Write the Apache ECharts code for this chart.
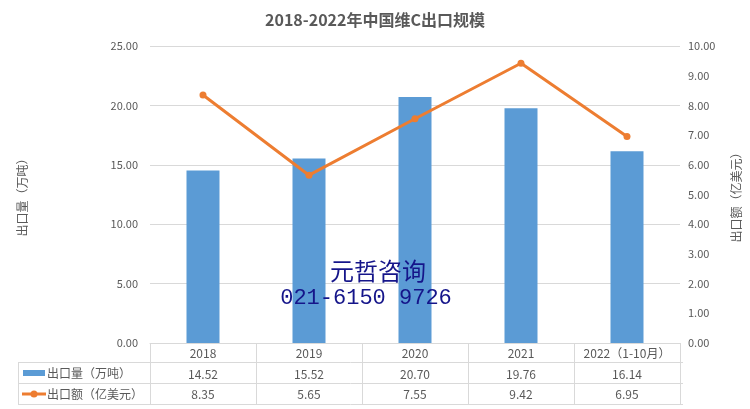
<!DOCTYPE html>
<html><head><meta charset="utf-8">
<script src="https://cdn.jsdelivr.net/npm/echarts@6/dist/echarts.min.js"></script>
<style>html,body{margin:0;padding:0;background:#fff}#c{width:750px;height:409px}</style>
</head><body><div id="c"></div>
<script>
var categories = ['2018','2019','2020','2021','2022（1-10月）'];
var volume = [14.52, 15.52, 20.70, 19.76, 16.14];
var value = [8.35, 5.65, 7.55, 9.42, 6.95];
var leftTicks = {min:0, max:25, interval:5};
var rightTicks = {min:0, max:10, interval:1};
var volName = '出口量（万吨）';
var valName = '出口额（亿美元）';

var FONT = '"Noto Sans CJK SC", "Noto Sans", sans-serif';
var GRAY = '#595959';
var LINE = '#D9D9D9';
var chart = echarts.init(document.getElementById('c'));
var fmt2 = function(v){ return Number(v).toFixed(2); };

var gridL = 150, gridR = 67, gridT = 46, gridB = 66;
var tableLeft = 18, tableRight = 750 - gridR;
var axisY = 409 - gridB;

var lbl = {margin: 4, verticalAlign: 'top', color: GRAY, fontSize: 12, fontFamily: FONT, interval: 0};

chart.setOption({
  animation: false,
  title: {text: '2018-2022年中国维C出口规模', left: 'center', top: 7,
    textStyle: {fontSize: 16, fontWeight: 'bold', color: GRAY, fontFamily: FONT}},
  grid: {left: gridL, right: gridR, top: gridT, bottom: gridB, containLabel: false},
  xAxis: [
    {type: 'category', data: categories, position: 'bottom',
      axisLine: {lineStyle: {color: LINE}},
      axisTick: {show: true, length: 62, interval: 0, lineStyle: {color: LINE}},
      axisLabel: lbl},
    {type: 'category', data: volume.map(fmt2), position: 'bottom', offset: 21,
      axisLine: {show: false}, axisTick: {show: false}, axisLabel: lbl},
    {type: 'category', data: value.map(fmt2), position: 'bottom', offset: 41,
      axisLine: {show: false}, axisTick: {show: false}, axisLabel: lbl}
  ],
  yAxis: [
    {type: 'value', min: leftTicks.min, max: leftTicks.max, interval: leftTicks.interval,
      name: volName, nameLocation: 'middle', nameGap: 122,
      nameTextStyle: {color: GRAY, fontSize: 12, fontFamily: FONT},
      axisLine: {show: false}, axisTick: {show: false},
      axisLabel: {formatter: fmt2, color: GRAY, fontSize: 11, margin: 12, fontFamily: FONT},
      splitLine: {lineStyle: {color: LINE}}},
    {type: 'value', min: rightTicks.min, max: rightTicks.max, interval: rightTicks.interval,
      name: valName, nameLocation: 'middle', nameGap: 50,
      nameTextStyle: {color: GRAY, fontSize: 12, fontFamily: FONT},
      axisLine: {show: false}, axisTick: {show: false},
      axisLabel: {formatter: fmt2, color: GRAY, fontSize: 11, margin: 8, fontFamily: FONT},
      splitLine: {show: false}}
  ],
  series: [
    {name: volName, type: 'bar', data: volume, xAxisIndex: 0, yAxisIndex: 0,
      barWidth: 33, itemStyle: {color: '#5B9BD5'}},
    {name: valName, type: 'line', data: value, xAxisIndex: 0, yAxisIndex: 1,
      symbol: 'circle', symbolSize: 7,
      lineStyle: {color: '#ED7D31', width: 3},
      itemStyle: {color: '#ED7D31'}}
  ],
  graphic: [
    {type: 'line', shape: {x1: tableLeft, y1: axisY + 19.5, x2: tableRight, y2: axisY + 19.5}, style: {stroke: LINE, lineWidth: 1}},
    {type: 'line', shape: {x1: tableLeft, y1: axisY + 40.5, x2: tableRight, y2: axisY + 40.5}, style: {stroke: LINE, lineWidth: 1}},
    {type: 'line', shape: {x1: tableLeft, y1: axisY + 61.5, x2: tableRight, y2: axisY + 61.5}, style: {stroke: LINE, lineWidth: 1}},
    {type: 'line', shape: {x1: tableLeft + 0.5, y1: axisY + 19.5, x2: tableLeft + 0.5, y2: axisY + 61.5}, style: {stroke: LINE, lineWidth: 1}},
    {type: 'rect', shape: {x: 23, y: axisY + 27, width: 22, height: 6}, style: {fill: '#5B9BD5'}},
    {type: 'text', style: {x: 47, y: axisY + 30, text: volName, fill: GRAY, font: '12px ' + FONT, verticalAlign: 'middle'}},
    {type: 'line', shape: {x1: 22, y1: axisY + 51, x2: 46, y2: axisY + 51}, style: {stroke: '#ED7D31', lineWidth: 3}},
    {type: 'circle', shape: {cx: 34, cy: axisY + 51, r: 3.5}, style: {fill: '#ED7D31'}},
    {type: 'text', style: {x: 47, y: axisY + 51, text: valName, fill: GRAY, font: '12px ' + FONT, verticalAlign: 'middle'}},
    {type: 'text', z: 100, style: {x: 378, y: 271, text: '元哲咨询', fill: '#15158A', font: '24px "Noto Sans CJK SC"', align: 'center', verticalAlign: 'middle'}},
    {type: 'text', z: 100, style: {x: 366, y: 298, text: '021-6150 9726', fill: '#15158A', font: '22px "Liberation Mono"', align: 'center', verticalAlign: 'middle'}}
  ]
});
</script></body></html>
